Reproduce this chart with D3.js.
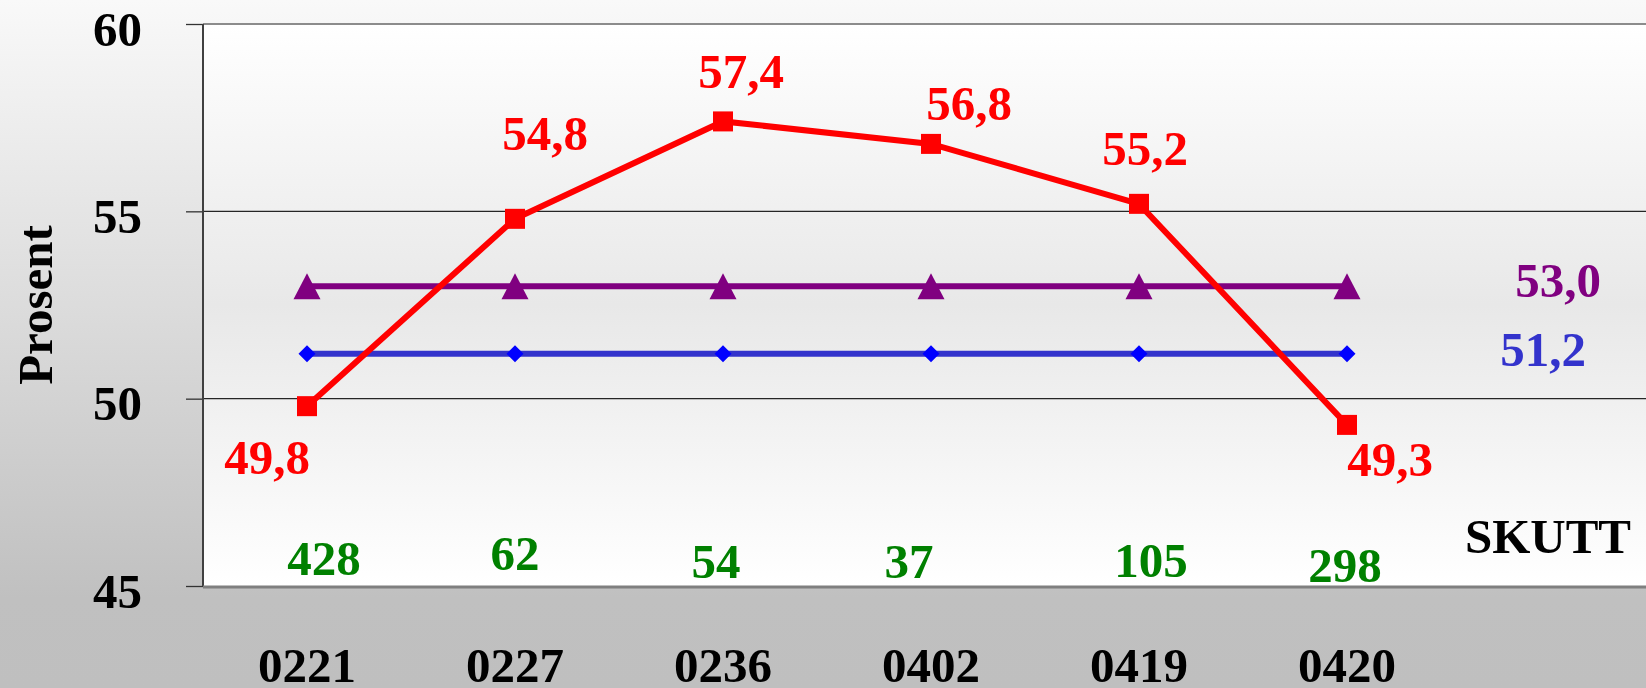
<!DOCTYPE html>
<html>
<head>
<meta charset="utf-8">
<script src="https://cdn.jsdelivr.net/npm/d3@7"></script>
<style>
  html, body { margin: 0; padding: 0; }
  body { width: 1646px; height: 688px; overflow: hidden; }
  text { font-family: "Liberation Serif", "Times New Roman", serif; font-weight: bold; }
</style>
</head>
<body>
<script>
// data
const categories = ["0221", "0227", "0236", "0402", "0419", "0420"];
const skuttValues = [49.8, 54.8, 57.4, 56.8, 55.2, 49.3];
const purpleLevel = [53.0, 53.0, 53.0, 53.0, 53.0, 53.0];
const blueLevel = [51.2, 51.2, 51.2, 51.2, 51.2, 51.2];
const counts = [428, 62, 54, 37, 105, 298];
const yTicks = [45, 50, 55, 60];

// hand placement of the labels (dx, baseline dy), like in the original slide
const redLabelNudge = [[-40, 68], [30, -69], [18, -33], [38, -24], [6, -39], [43, 51]];
const countNudge = [[17, 575], [0, 570], [-7, 578], [-22, 578], [12, 577], [-2, 582]];

(function () {
  var width = 1646,
      height = 688,
      plotLeft = 203,
      plotTop = 24,
      plotBottom = 586,
      fontSize = 49;

  var nb = d3.formatLocale({ decimal: ",", thousands: " ", grouping: [3], currency: ["", ""] });
  var fmt = nb.format(".1f");

  var svg = d3.select("body").append("svg")
      .attr("width", width)
      .attr("height", height);

  var defs = svg.append("defs");

  var bg = defs.append("linearGradient")
      .attr("id", "bg").attr("x1", 0).attr("y1", 0).attr("x2", 0).attr("y2", 1);
  bg.append("stop").attr("offset", 0).attr("stop-color", "#f9f9f9");
  bg.append("stop").attr("offset", 0.87).attr("stop-color", "#c0c0c0");
  bg.append("stop").attr("offset", 1).attr("stop-color", "#bfbfbf");

  var plotBg = defs.append("linearGradient")
      .attr("id", "plotBg").attr("x1", 0).attr("y1", 0).attr("x2", 0).attr("y2", 1);
  plotBg.append("stop").attr("offset", 0).attr("stop-color", "#ffffff");
  plotBg.append("stop").attr("offset", 0.5).attr("stop-color", "#e8e8e8");
  plotBg.append("stop").attr("offset", 1).attr("stop-color", "#ffffff");

  svg.append("rect")
      .attr("width", width).attr("height", height)
      .attr("fill", "url(#bg)");

  svg.append("rect")
      .attr("x", plotLeft).attr("y", plotTop)
      .attr("width", width - plotLeft).attr("height", plotBottom - plotTop)
      .attr("fill", "url(#plotBg)");

  var x = d3.scaleBand()
      .domain(categories)
      .range([plotLeft, plotLeft + 208 * categories.length]);

  var y = d3.scaleLinear()
      .domain([45, 60])
      .range([plotBottom, plotTop]);

  function cx(i) { return x(categories[i]) + x.bandwidth() / 2; }

  // grid lines
  svg.append("g")
    .selectAll("line")
      .data([50, 55])
    .enter().append("line")
      .attr("x1", plotLeft).attr("x2", width)
      .attr("y1", d => y(d)).attr("y2", d => y(d))
      .attr("stroke", "#262626")
      .attr("stroke-width", 1.2);

  // top border
  svg.append("line")
      .attr("x1", plotLeft).attr("x2", width)
      .attr("y1", plotTop).attr("y2", plotTop)
      .attr("stroke", "#8c8c8c").attr("stroke-width", 2);

  // y axis
  var yAxis = svg.append("g")
      .attr("transform", "translate(" + plotLeft + ",0)")
      .call(d3.axisLeft(y).tickValues(yTicks).tickSize(17).tickSizeOuter(0).tickPadding(44));
  yAxis.select(".domain").remove();
  yAxis.selectAll(".tick line").attr("stroke", "#333").attr("stroke-width", 1.3);
  yAxis.selectAll(".tick text")
      .attr("dy", "0.43em")
      .attr("fill", "#000")
      .style("font-size", fontSize + "px")
      .style("font-family", "'Liberation Serif', serif")
      .style("font-weight", "bold");

  svg.append("line")
      .attr("x1", plotLeft).attr("x2", plotLeft)
      .attr("y1", plotTop).attr("y2", plotBottom)
      .attr("stroke", "#404040").attr("stroke-width", 2);

  // x axis
  var xAxis = svg.append("g")
      .attr("transform", "translate(0," + plotBottom + ")")
      .call(d3.axisBottom(x).tickSize(0));
  xAxis.select(".domain").remove();
  xAxis.selectAll(".tick text")
      .attr("y", 96).attr("dy", 0)
      .attr("fill", "#000")
      .style("font-size", fontSize + "px")
      .style("font-family", "'Liberation Serif', serif")
      .style("font-weight", "bold");

  svg.append("line")
      .attr("x1", plotLeft).attr("x2", width)
      .attr("y1", plotBottom + 1).attr("y2", plotBottom + 1)
      .attr("stroke", "#7f7f7f").attr("stroke-width", 3);

  // y title
  svg.append("text")
      .attr("transform", "translate(52,305) rotate(-90)")
      .attr("text-anchor", "middle")
      .style("font-size", fontSize + "px")
      .text("Prosent");

  var line = d3.line()
      .x((d, i) => cx(i))
      .y(d => y(d));

  // purple level
  svg.append("path")
      .datum(purpleLevel)
      .attr("d", line)
      .attr("fill", "none")
      .attr("stroke", "#800080")
      .attr("stroke-width", 6);

  svg.append("g")
    .selectAll("path")
      .data(purpleLevel)
    .enter().append("path")
      .attr("d", (d, i) => {
        var px = cx(i), py = y(d);
        return "M" + (px - 13.5) + "," + (py + 13) + "L" + px + "," + (py - 13) + "L" + (px + 13.5) + "," + (py + 13) + "Z";
      })
      .attr("fill", "#800080");

  // blue level
  svg.append("path")
      .datum(blueLevel)
      .attr("d", line)
      .attr("fill", "none")
      .attr("stroke", "#3333cc")
      .attr("stroke-width", 6);

  svg.append("g")
    .selectAll("path")
      .data(blueLevel)
    .enter().append("path")
      .attr("d", (d, i) => {
        var px = cx(i), py = y(d);
        return "M" + (px - 8.5) + "," + py + "L" + px + "," + (py - 8.5) + "L" + (px + 8.5) + "," + py + "L" + px + "," + (py + 8.5) + "Z";
      })
      .attr("fill", "#0000ff");

  // red series on top
  svg.append("path")
      .datum(skuttValues)
      .attr("d", line)
      .attr("fill", "none")
      .attr("stroke", "#ff0000")
      .attr("stroke-width", 6);

  svg.append("g")
    .selectAll("rect")
      .data(skuttValues)
    .enter().append("rect")
      .attr("x", (d, i) => cx(i) - 10)
      .attr("y", d => y(d) - 10)
      .attr("width", 20)
      .attr("height", 20)
      .attr("fill", "#ff0000");

  svg.append("g")
    .selectAll("text")
      .data(skuttValues)
    .enter().append("text")
      .attr("x", (d, i) => cx(i) + redLabelNudge[i][0])
      .attr("y", (d, i) => y(d) + redLabelNudge[i][1])
      .attr("text-anchor", "middle")
      .attr("fill", "#ff0000")
      .style("font-size", fontSize + "px")
      .text(d => fmt(d));

  // level labels at the right
  svg.append("text")
      .attr("x", 1558).attr("y", y(purpleLevel[0]) + 11)
      .attr("text-anchor", "middle")
      .attr("fill", "#800080")
      .style("font-size", fontSize + "px")
      .text(fmt(purpleLevel[0]));

  svg.append("text")
      .attr("x", 1543).attr("y", y(blueLevel[0]) + 12)
      .attr("text-anchor", "middle")
      .attr("fill", "#3333cc")
      .style("font-size", fontSize + "px")
      .text(fmt(blueLevel[0]));

  // counts
  svg.append("g")
    .selectAll("text")
      .data(counts)
    .enter().append("text")
      .attr("x", (d, i) => cx(i) + countNudge[i][0])
      .attr("y", (d, i) => countNudge[i][1])
      .attr("text-anchor", "middle")
      .attr("fill", "#008000")
      .style("font-size", fontSize + "px")
      .text(d => d);

  svg.append("text")
      .attr("x", 1548).attr("y", 553)
      .attr("text-anchor", "middle")
      .attr("fill", "#000")
      .style("font-size", fontSize + "px")
      .text("SKUTT");
})();
</script>
</body>
</html>
